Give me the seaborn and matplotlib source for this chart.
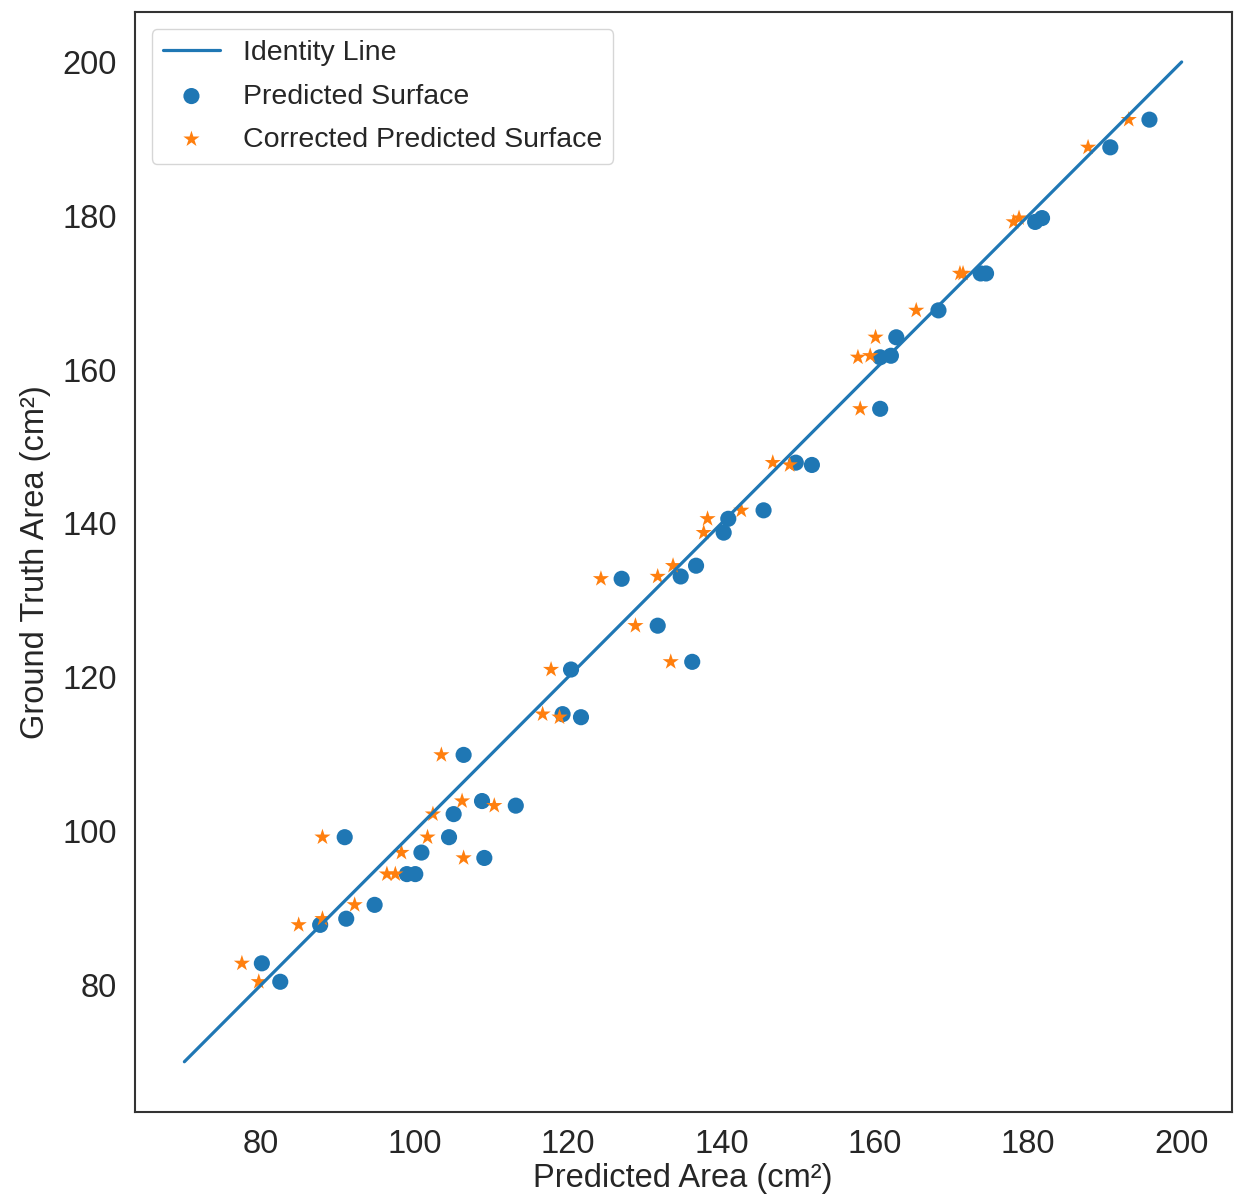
import numpy as np
import pandas as pd
import matplotlib
matplotlib.use("Agg")
import matplotlib.pyplot as plt
import seaborn as sns

# valores (cm^2)
ground_truth = [82.8, 80.4, 87.8, 88.6, 90.4, 99.2, 97.2, 94.4, 94.4, 102.2,
                99.2, 103.9, 103.3, 96.5, 109.9, 121.0, 115.2, 114.8, 132.8, 126.7,
                122.0, 133.1, 134.5, 140.6, 138.8, 141.7, 147.9, 147.6, 154.9, 161.6,
                161.8, 164.2, 167.7, 172.5, 172.5, 179.2, 179.7, 188.9, 192.5]
predicted = [80.1, 82.5, 87.7, 91.1, 94.8, 90.9, 100.9, 99.0, 100.1, 105.1,
             104.5, 108.8, 113.2, 109.1, 106.4, 120.4, 119.3, 121.7, 127.0, 131.7,
             136.2, 134.7, 136.7, 140.9, 140.3, 145.5, 149.7, 151.8, 160.7, 160.7,
             162.1, 162.8, 168.3, 173.8, 174.5, 180.9, 181.8, 190.7, 195.8]
corrected = [77.5, 79.7, 84.9, 88.0, 92.2, 88.0, 98.3, 96.4, 97.5, 102.4,
             101.7, 106.2, 110.4, 106.4, 103.5, 117.8, 116.7, 118.9, 124.3, 128.8,
             133.4, 131.7, 133.7, 138.2, 137.7, 142.6, 146.7, 148.9, 158.1, 157.8,
             159.4, 160.1, 165.4, 171.1, 171.5, 178.1, 178.8, 187.8, 193.1]
identity = [70, 200]
ticks = [80, 100, 120, 140, 160, 180, 200]

df = pd.DataFrame({'GT': ground_truth, 'Pred': predicted, 'Corr': corrected})

sns.set_style('white')
plt.rcParams['font.family'] = ['Liberation Sans', 'DejaVu Sans']

fig = plt.figure(figsize=(12.34, 11.98), dpi=100)
ax = fig.add_axes([0.109, 0.072, 0.889, 0.918])

sns.lineplot(x=identity, y=identity, ax=ax, color='#1f77b4', linewidth=2.3,
             label='Identity Line')
sns.scatterplot(data=df, x='Pred', y='GT', ax=ax, color='#1f77b4', s=135,
                marker='o', edgecolor='none', label='Predicted Surface')
sns.scatterplot(data=df, x='Corr', y='GT', ax=ax, color='#ff7f0e', s=150,
                marker='*', edgecolor='none', label='Corrected Predicted Surface')

ax.set_xlim(63.5, 206.5)
ax.set_ylim(63.5, 206.5)
ax.set_xticks(ticks)
ax.set_yticks(ticks)
ax.tick_params(labelsize=23.5, colors='0.15', pad=9)
ax.set_xlabel('Predicted Area (cm²)', fontsize=23.5, color='0.15', labelpad=2)
ax.set_ylabel('Ground Truth Area (cm²)', fontsize=23.5, color='0.15', labelpad=8)
for sp in ax.spines.values():
    sp.set_color('0.2')
    sp.set_linewidth(1.5)

ax.legend(loc='upper left', fontsize=20.5, frameon=True, borderaxespad=0.6,
          labelspacing=0.6, handletextpad=0.8)

fig.savefig('out.png', dpi=100)
